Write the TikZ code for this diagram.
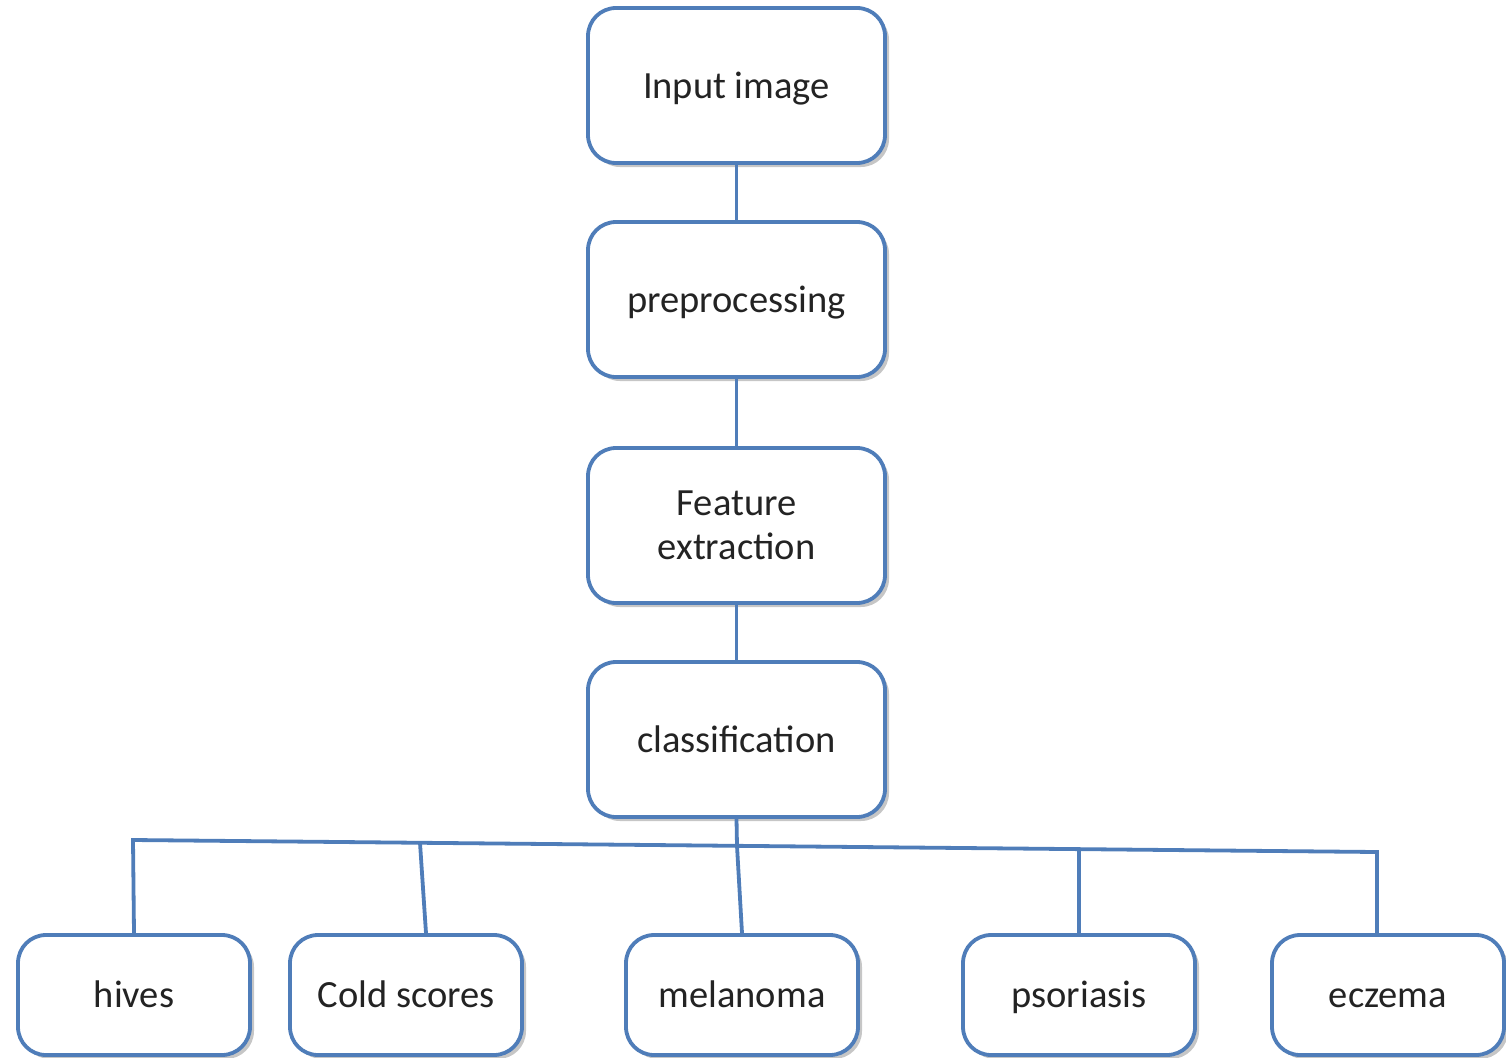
\documentclass[tikz,border=0pt]{standalone}
\usepackage{fontspec}
\setmainfont{Carlito}
\usetikzlibrary{shadows}
\definecolor{boxblue}{RGB}{79,125,185}
\definecolor{txt}{RGB}{35,35,35}
\begin{document}
\begin{tikzpicture}[x=1pt,y=-1pt,
  box/.style={draw=boxblue,line width=3.8pt,rounded corners=28pt,fill=white,
    drop shadow={shadow xshift=4pt,shadow yshift=-4pt,opacity=0.45,fill=gray},
    inner sep=0pt,align=center,text=txt,font=\fontsize{38.5}{44}\selectfont},
  oneline/.style={text height=30pt,text depth=5pt},
  mainbox/.style={box,minimum width=297pt,minimum height=155pt},
  leafbox/.style={box,oneline,minimum width=232pt,minimum height=120pt},
  link/.style={draw=boxblue,line width=3.8pt}]
\useasboundingbox (0,0) rectangle (1506,1057);
\node[mainbox,oneline] (inp) at (736.5,85.5) {Input image};
\node[mainbox,oneline] (pre) at (736.5,299.5) {preprocessing};
\node[mainbox] (fea) at (736.5,525.5) {Feature\\extraction};
\node[mainbox,oneline] (cla) at (736.5,739.5) {classification};
\node[leafbox] (hiv) at (134,995) {hives};
\node[leafbox] (col) at (406,995) {Cold scores};
\node[leafbox] (mel) at (742,995) {melanoma};
\node[leafbox] (pso) at (1079,995) {psoriasis};
\node[leafbox] (ecz) at (1388,995) {eczema};
\coordinate (bL) at (133,840);
\coordinate (bC) at (420,843);
\coordinate (bM) at (737,846);
\coordinate (bP) at (1079,849);
\coordinate (bR) at (1377,852);
\draw[link] (inp.south) -- (pre.north);
\draw[link] (pre.south) -- (fea.north);
\draw[link] (fea.south) -- (cla.north);
\draw[link] (cla.south) -- (bM);
\draw[link] (hiv.north) -- (bL) -- (bR) -- ([xshift=-11pt]ecz.north);
\draw[link] (bC) -- ([xshift=20pt]col.north);
\draw[link] (bM) -- (mel.north);
\draw[link] (bP) -- (pso.north);
\end{tikzpicture}
\end{document}
